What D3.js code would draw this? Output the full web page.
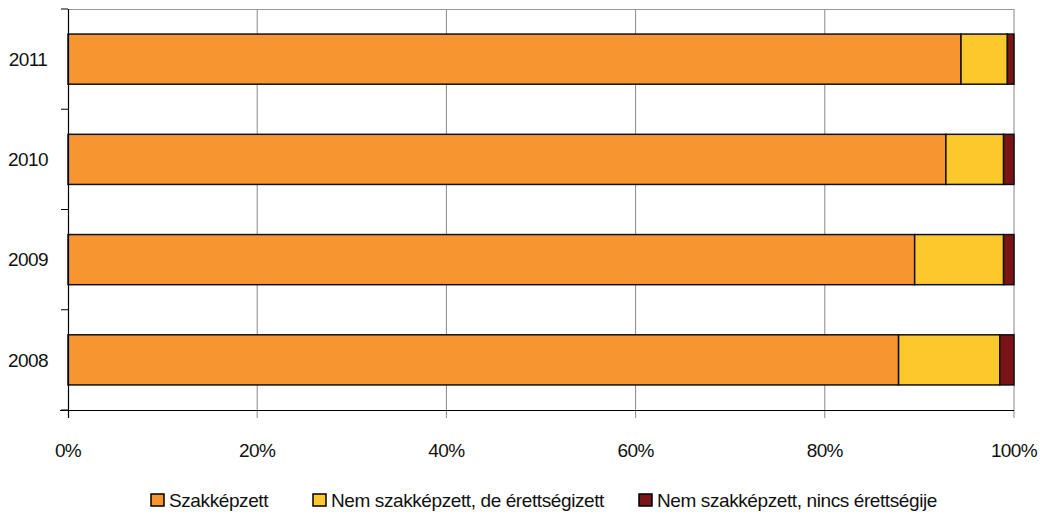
<!DOCTYPE html>
<html>
<head>
<meta charset="utf-8">
<script src="https://cdn.jsdelivr.net/npm/d3@7"></script>
<style>
  body { margin: 0; background: #fff; }
  text { font-family: "Liberation Sans", Arial, sans-serif; fill: #111; }
</style>
</head>
<body>
<div id="chart"></div>
<script>
/* Data */
var years = ["2011", "2010", "2009", "2008"];
var seriesNames = ["Szakképzett", "Nem szakképzett, de érettségizett", "Nem szakképzett, nincs érettségije"];
var szakkepzett = [94.4, 92.8, 89.5, 87.8];
var erettsegizett = [4.9, 6.1, 9.4, 10.7];
var nincs = [0.7, 1.1, 1.1, 1.5];
var xTicks = [0, 20, 40, 60, 80, 100];
var colors = ["#F7962E", "#FDC82C", "#7B1416"];

var width = 1040, height = 516;
var margin = {top: 9, right: 26, bottom: 106, left: 68};
var plotW = width - margin.left - margin.right,
    plotH = height - margin.top - margin.bottom;

var svg = d3.select("#chart").append("svg")
    .attr("width", width)
    .attr("height", height);

var g = svg.append("g").attr("transform", "translate(" + margin.left + "," + margin.top + ")");

var x = d3.scaleLinear().domain([0, 100]).range([0, plotW]);
var y = d3.scaleBand().domain(years).range([0, plotH]).paddingInner(0.5).paddingOuter(0.25);

// rows for stacking
var rows = years.map(function (yr, i) {
    return {year: yr, s0: szakkepzett[i], s1: erettsegizett[i], s2: nincs[i]};
});
var stack = d3.stack().keys(["s0", "s1", "s2"]);
var layers = stack(rows);

// gridlines
g.selectAll("line.grid").data(xTicks.slice(1)).enter().append("line")
    .attr("class", "grid")
    .attr("x1", function (d) { return x(d); })
    .attr("x2", function (d) { return x(d); })
    .attr("y1", 0).attr("y2", plotH + 8)
    .style("stroke", "#888").style("stroke-width", 1);

// top border
g.append("line").attr("x1", 0).attr("x2", plotW).attr("y1", 0.5).attr("y2", 0.5)
    .style("stroke", "#999");

// bars
g.selectAll("g.layer").data(layers).enter().append("g")
    .attr("class", "layer")
    .attr("fill", function (d, i) { return colors[i]; })
    .selectAll("rect").data(function (d) { return d; }).enter().append("rect")
    .attr("x", function (d) { return x(d[0]); })
    .attr("y", function (d) { return y(d.data.year); })
    .attr("width", function (d) { return x(d[1]) - x(d[0]); })
    .attr("height", y.bandwidth())
    .style("stroke", "#111").style("stroke-width", 1.5);

// y axis
var yBoundaries = d3.range(years.length + 1).map(function (i) { return i * plotH / years.length; });
g.append("line").attr("x1", 0.5).attr("x2", 0.5).attr("y1", 0).attr("y2", plotH + 8)
    .style("stroke", "#000").style("stroke-width", 1.2);
g.selectAll("line.ytick").data(yBoundaries).enter().append("line")
    .attr("class", "ytick")
    .attr("x1", -7).attr("x2", 0)
    .attr("y1", function (d) { return d; }).attr("y2", function (d) { return d; })
    .style("stroke", "#000");
g.selectAll("text.ylab").data(years).enter().append("text")
    .attr("class", "ylab")
    .attr("x", -40)
    .attr("y", function (d) { return y(d) + y.bandwidth() / 2; })
    .attr("dy", "0.35em")
    .attr("text-anchor", "middle")
    .style("font-size", "19px")
    .style("letter-spacing", "-0.6px")
    .text(function (d) { return d; });

// x axis
g.append("line").attr("x1", -8).attr("x2", plotW).attr("y1", plotH + 0.5).attr("y2", plotH + 0.5)
    .style("stroke", "#000").style("stroke-width", 1.2);
g.selectAll("text.xlab").data(xTicks).enter().append("text")
    .attr("class", "xlab")
    .attr("x", function (d) { return x(d); })
    .attr("y", plotH + 47)
    .attr("text-anchor", "middle")
    .style("font-size", "19px")
    .style("letter-spacing", "-0.6px")
    .text(function (d) { return d + "%"; });

// legend
var legendX = [151, 313, 639];
var legend = svg.selectAll("g.legend").data(seriesNames).enter().append("g")
    .attr("class", "legend")
    .attr("transform", function (d, i) { return "translate(" + legendX[i] + ",494)"; });
legend.append("rect").attr("width", 13).attr("height", 12)
    .attr("fill", function (d, i) { return colors[i]; })
    .style("stroke", "#000").style("stroke-width", 1.5);
legend.append("text").attr("x", 18).attr("y", 6).attr("dy", "0.35em")
    .style("font-size", "19px")
    .style("letter-spacing", "-0.4px")
    .text(function (d) { return d; });
</script>
</body>
</html>
